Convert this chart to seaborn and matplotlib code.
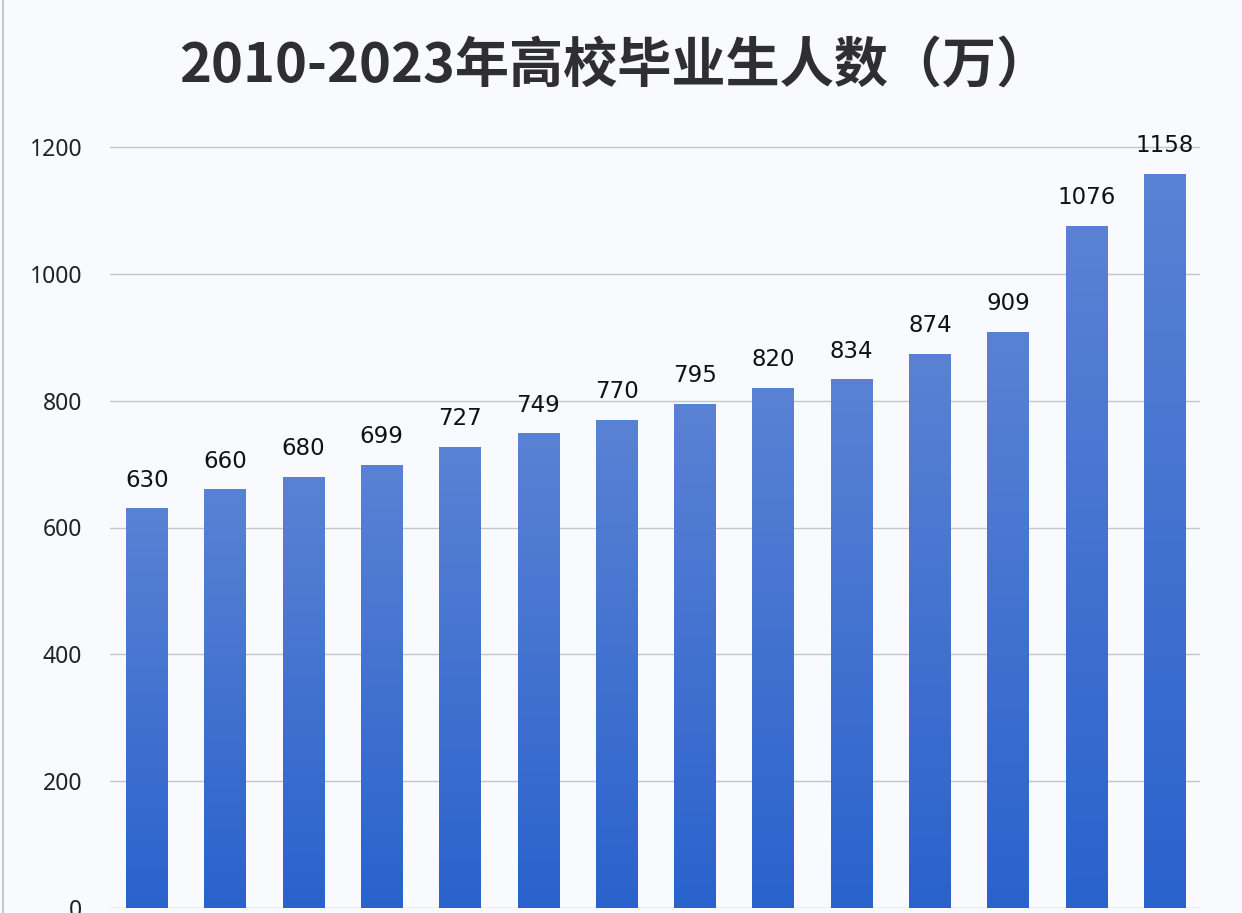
import numpy as np
import pandas as pd
import seaborn as sns
import matplotlib.pyplot as plt
from matplotlib.colors import LinearSegmentedColormap

years = [str(y) for y in range(2010, 2024)]
graduates = [630, 660, 680, 699, 727, 749, 770, 795, 820, 834, 874, 909, 1076, 1158]
yticks = [0, 200, 400, 600, 800, 1000, 1200]

df = pd.DataFrame({"year": years, "graduates": graduates})

sns.set_theme(style="white")
plt.rcParams["font.family"] = ["Noto Sans CJK SC", "DejaVu Sans"]

fig = plt.figure(figsize=(12.42, 9.13), dpi=100)
fig.patch.set_facecolor("#f9fafd")
ax = fig.add_axes([110 / 1242, 5 / 913, 1090 / 1242, 761 / 913 * 1300 / 1200])
ax.set_facecolor("#f9fafd")

sns.barplot(data=df, x="year", y="graduates", color="#3d6fd0", width=0.53,
            saturation=1, ax=ax)

ax.set_yticks(yticks)
ax.set_yticklabels([str(t) for t in yticks], fontsize=16.5, color="#222222",
                   family=["Noto Sans"])
ax.tick_params(axis="y", length=0, pad=20)
ax.set_xticklabels([])
ax.tick_params(axis="x", length=0)
ax.set_xlabel("")
ax.set_ylabel("")
ax.yaxis.grid(True, color="#c4c6cc", linewidth=1)
ax.set_axisbelow(True)
for s in ax.spines.values():
    s.set_visible(False)

# vertical gradient in each bar
cmap = LinearSegmentedColormap.from_list("bar", ["#2a62cc", "#5a82d4"])
grad = np.linspace(0, 1, 256).reshape(-1, 1)
for patch in ax.patches:
    x0, y0 = patch.get_x(), patch.get_y()
    w, h = patch.get_width(), patch.get_height()
    im = ax.imshow(grad, cmap=cmap, aspect="auto", origin="lower",
                   extent=[x0, x0 + w, y0, y0 + h], zorder=2)
    im.set_clip_path(patch)
    patch.set_facecolor("none")
    patch.set_edgecolor("none")
ax.set_xlim(-0.47, 13.45)
ax.set_ylim(0, 1300)

for i, v in enumerate(graduates):
    ax.text(i, v + 26, str(v), ha="center", va="bottom", fontsize=16.5,
            color="#111111", family=["DejaVu Sans"])

fig.text(0.495, 0.926, "2010-2023年高校毕业生人数（万）", ha="center", va="center",
         fontsize=39, fontweight="bold", color="#2e2e33")

# thin border at the left edge
fig.add_artist(plt.Line2D([3 / 1242, 3 / 1242], [0, 1], color="#c8c8c8",
                          linewidth=1.5, transform=fig.transFigure))

fig.savefig("out.png", dpi=100, facecolor=fig.get_facecolor())
